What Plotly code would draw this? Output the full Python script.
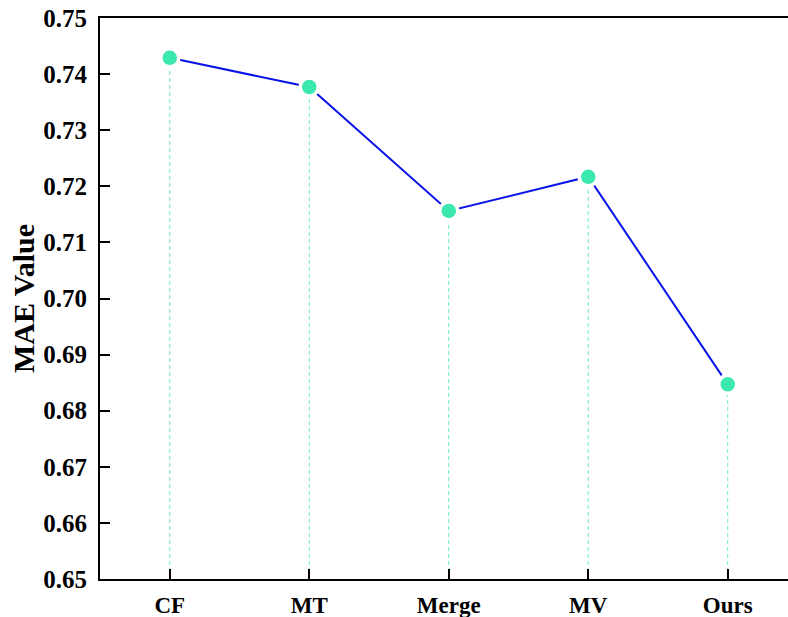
import plotly.graph_objects as go

categories = ["CF", "MT", "Merge", "MV", "Ours"]
mae_values = [0.7429, 0.7377, 0.7156, 0.7217, 0.6847]
y_ticks = [0.65, 0.66, 0.67, 0.68, 0.69, 0.70, 0.71, 0.72, 0.73, 0.74, 0.75]

FONT = "Liberation Serif"

xs = list(range(len(categories)))
drop_x, drop_y = [], []
for i, v in zip(xs, mae_values):
    drop_x += [i, i, None]
    drop_y += [0.65, v, None]

fig = go.Figure()
fig.add_trace(go.Scatter(x=drop_x, y=drop_y, mode="lines",
                         line=dict(color="#6ee8cc", width=1, dash="4px,3px"),
                         hoverinfo="skip", showlegend=False))
fig.add_trace(go.Scatter(x=xs, y=mae_values, mode="lines+markers",
                         line=dict(color="#0a14e6", width=2),
                         marker=dict(size=18, color="#3be8b0",
                                     line=dict(color="white", width=3.5)),
                         showlegend=False))

fig.update_layout(
    width=788, height=617,
    margin=dict(l=100, r=0, t=18, b=38),
    plot_bgcolor="white", paper_bgcolor="white",
    font=dict(family=FONT, color="black"),
    xaxis=dict(range=[-0.5, 4.432], tickvals=xs, ticktext=categories,
               automargin=False,
               showgrid=False, zeroline=False,
               showline=True, linecolor="black", linewidth=2, mirror=True,
               ticks="inside", ticklen=10, tickwidth=2, tickcolor="black",
               ticklabelstandoff=4, ticklabeloverflow="allow",
               tickfont=dict(family=FONT, size=23, color="black", weight="bold")),
    yaxis=dict(range=[0.65, 0.75], tickvals=y_ticks,
               ticktext=[f"{t:.2f}" for t in y_ticks],
               automargin=False,
               showgrid=False, zeroline=False,
               showline=True, linecolor="black", linewidth=2,
               ticks="inside", ticklen=10, tickwidth=2, tickcolor="black",
               ticklabelstandoff=6, ticklabeloverflow="allow",
               tickfont=dict(family=FONT, size=25, color="black", weight="bold"),
               title=dict(text="<b>MAE Value</b>", standoff=0,
                          font=dict(family=FONT, size=30, color="black"))),
)

fig.write_html("out.html", config={"displayModeBar": False},
               post_script="document.body.style.margin='0px';document.body.style.overflow='hidden';")
